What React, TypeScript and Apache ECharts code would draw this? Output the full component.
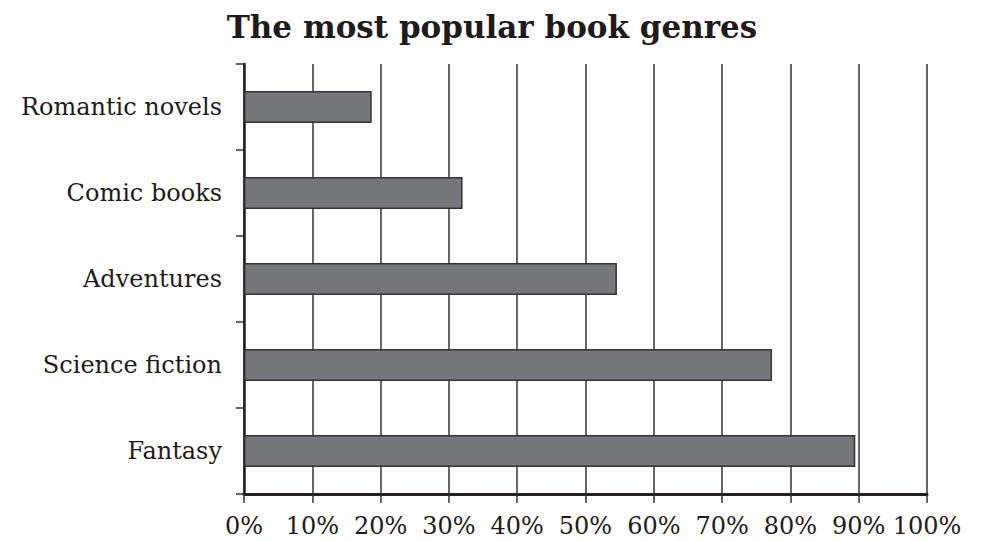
import React, { useEffect, useRef } from "react";
import * as echarts from "echarts";

const categories = ["Romantic novels", "Comic books", "Adventures", "Science fiction", "Fantasy"];
const values = [18.7, 32.0, 54.6, 77.3, 89.5];
const xTicks = [0, 10, 20, 30, 40, 50, 60, 70, 80, 90, 100];

const FONT = "'DejaVu Serif', serif";

export default function App() {
  const ref = useRef<HTMLDivElement>(null);
  useEffect(() => {
    if (!ref.current) return;
    const chart = echarts.init(ref.current, null, { renderer: "svg" });
    chart.setOption({
      animation: false,
      backgroundColor: "#ffffff",
      title: {
        text: "The most popular book genres",
        left: "center",
        top: 6,
        textStyle: { fontFamily: FONT, fontWeight: "bold", fontSize: 31, color: "#1f1b1c" },
      },
      grid: { left: 244, right: 57, top: 64, bottom: 47, containLabel: false },
      xAxis: {
        type: "value",
        min: xTicks[0],
        max: xTicks[xTicks.length - 1],
        interval: 10,
        axisLine: { show: true, lineStyle: { color: "#231f20", width: 3 } },
        axisTick: { show: true, length: 9, lineStyle: { color: "#333", width: 1.5 } },
        axisLabel: {
          margin: 20,
          fontFamily: FONT,
          fontSize: 24,
          color: "#1f1b1c",
          formatter: (v: number) => `${v}%`,
        },
        splitLine: { show: true, lineStyle: { color: "#333", width: 1.5 } },
      },
      yAxis: {
        type: "category",
        inverse: true,
        data: categories,
        axisLine: { show: true, lineStyle: { color: "#231f20", width: 2.5 } },
        axisTick: { show: true, length: 8, lineStyle: { color: "#333", width: 1.5 } },
        axisLabel: { margin: 22, fontFamily: FONT, fontSize: 24, color: "#1f1b1c" },
        splitLine: { show: false },
      },
      series: [
        {
          type: "bar",
          data: values,
          barWidth: 32,
          itemStyle: { color: "#76777b", borderColor: "#333", borderWidth: 1.5 },
        },
      ],
    });
    return () => chart.dispose();
  }, []);
  return <div ref={ref} style={{ width: 984, height: 541, position: "absolute", left: 0, top: 0 }} />;
}
